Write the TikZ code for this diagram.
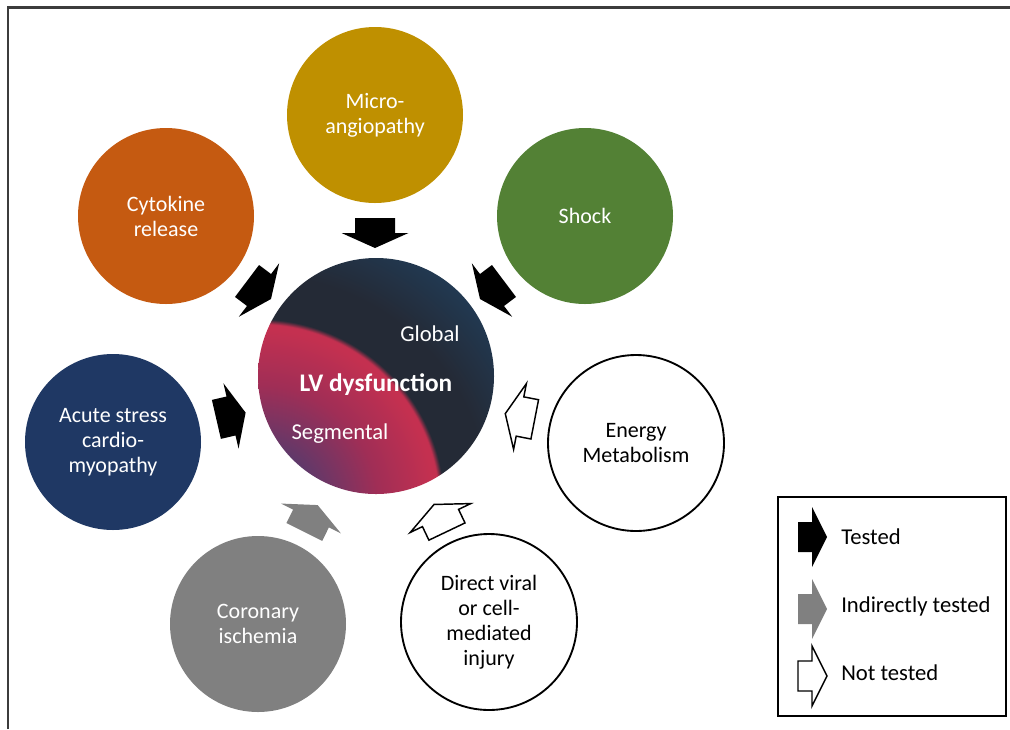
\documentclass[tikz,border=0pt]{standalone}
\usepackage{fontspec}
\setmainfont{Carlito}
\definecolor{micro}{RGB}{191,144,0}
\definecolor{cyto}{RGB}{197,90,17}
\definecolor{shock}{RGB}{83,129,53}
\definecolor{acute}{RGB}{31,56,100}
\definecolor{coron}{RGB}{128,128,128}
\definecolor{arrowgray}{RGB}{128,128,128}
\definecolor{framegray}{RGB}{60,60,60}
\definecolor{lvpurple}{RGB}{88,58,108}
\definecolor{lvmid}{RGB}{160,46,86}
\definecolor{lvred}{RGB}{196,48,80}
\definecolor{lvdark}{RGB}{36,42,54}
\definecolor{lvnavy}{RGB}{32,66,98}
\pgfdeclareradialshading{lvshade}{\pgfpoint{0bp}{0bp}}{color(0bp)=(lvpurple); color(5bp)=(lvpurple); color(12bp)=(lvmid); color(17.6bp)=(lvred); color(18.1bp)=(lvred); color(18.6bp)=(lvdark); color(23bp)=(lvdark); color(33bp)=(lvnavy); color(50bp)=(lvnavy)}
\tikzset{
  bub/.style={circle, minimum size=132pt, inner sep=0pt, align=center,
    font=\fontsize{16.5}{18.75}\selectfont, text=white},
  wbub/.style={bub, draw=black, line width=1.4pt, fill=white, text=black},
  lvtext/.style={text=white, font=\fontsize{17}{20}\selectfont, inner sep=0pt},
  legtext/.style={anchor=west, text=black, font=\fontsize{17}{20}\selectfont, inner sep=0pt},
  bigarrow/.pic={\path[pic actions] (-15,-20) -- (0,-20) -- (0,-33.5) -- (15,0) -- (0,33.5) -- (0,20) -- (-15,20) -- cycle;},
  smallarrow/.pic={\path[pic actions] (-14,-15) -- (0,-15) -- (0,-30) -- (15,0) -- (0,30) -- (0,15) -- (-14,15) -- cycle;},
  tested/.style={fill=black},
  indirect/.style={fill=arrowgray},
  nottested/.style={fill=white, draw=black, line width=1.1pt, line join=miter},
  frameline/.style={draw=framegray, line width=1.6pt},
}
\begin{document}
\begin{tikzpicture}[x=0.75pt,y=-0.75pt]
\useasboundingbox (0,0) rectangle (1010,729);
\draw[frameline] (8,729) -- (8,7.5) -- (1010,7.5);

% outer circles
\node[bub, fill=micro] (micro) at (375,115) {Micro-\\angiopathy};
\node[bub, fill=cyto] (cyto) at (166,216) {Cytokine\\release};
\node[bub, fill=shock] (shock) at (585,216) {Shock};
\node[bub, fill=acute] (acute) at (113,442) {Acute stress\\cardio-\\myopathy};
\node[wbub] (energy) at (636,443) {Energy\\Metabolism};
\node[bub, fill=coron] (coron) at (258,624) {Coronary\\ischemia};
\node[wbub] (viral) at (489,622) {Direct viral\\or cell-\\mediated\\injury};

% central circle
\node[circle, minimum size=177pt, inner sep=0pt] (lv) at (376,376) {};
\begin{scope}
  \clip (lv.center) circle[radius=88.5pt];
  \shade[shading=lvshade] (8,255) rectangle (508,755);
\end{scope}
\node[lvtext] (global) at (430,334) {Global};
\node[lvtext, font=\fontsize{19}{22}\selectfont\bfseries] (lvd) at (376,385) {LV dysfunction};
\node[lvtext] (segm) at (340,434) {Segmental};

% block arrows
\pic[tested, rotate=-90] at (375,233) {bigarrow};
\pic[tested, rotate=-37] at (259,290) {bigarrow};
\pic[tested, rotate=-143] at (492,290) {bigarrow};
\pic[tested, rotate=13] at (231,416) {bigarrow};
\pic[nottested, rotate=169] at (520,416.5) {bigarrow};
\pic[nottested, rotate=115.5] at (440.5,518) {bigarrow};
\pic[indirect, rotate=63.5] at (311,518.5) {bigarrow};

% legend
\node[draw=black, line width=1pt, minimum width=171pt, minimum height=164.25pt, inner sep=0pt] (legend) at (892,606.5) {};
\pic[tested] at (812,537) {smallarrow};
\pic[indirect] at (812,609) {smallarrow};
\pic[nottested] at (812,676) {smallarrow};
\node[legtext] (lt) at (841,537) {Tested};
\node[legtext] (li) at (841,606) {Indirectly tested};
\node[legtext] (ln) at (841,673) {Not tested};
\end{tikzpicture}
\end{document}
